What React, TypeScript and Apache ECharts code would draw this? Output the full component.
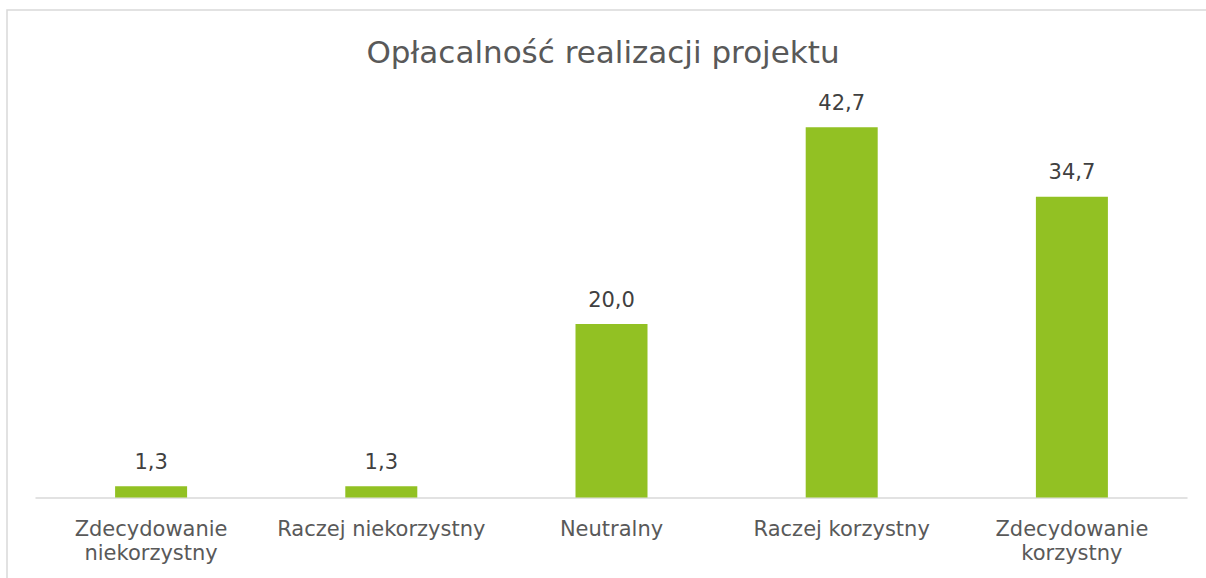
import React, { useEffect, useRef } from "react";
import * as echarts from "echarts";

const titleText = "Opłacalność realizacji projektu";
const categories = [
  "Zdecydowanie\nniekorzystny",
  "Raczej niekorzystny",
  "Neutralny",
  "Raczej korzystny",
  "Zdecydowanie\nkorzystny",
];
const values = [1.3, 1.3, 20.0, 42.7, 34.7];

const FONT = "'DejaVu Sans', sans-serif";

export default function App() {
  const ref = useRef<HTMLDivElement>(null);
  useEffect(() => {
    if (!ref.current) return;
    const chart = echarts.init(ref.current, null, { renderer: "svg" });
    chart.setOption({
      animation: false,
      backgroundColor: "#ffffff",
      title: {
        text: titleText,
        left: "center",
        top: 36,
        padding: 0,
        textStyle: {
          fontFamily: FONT,
          fontSize: 31,
          fontWeight: "normal",
          color: "#595959",
        },
      },
      graphic: [
        {
          type: "rect",
          shape: { x: 7, y: 10, width: 1260, height: 640 },
          style: { fill: "none", stroke: "#d9d9d9", lineWidth: 1.5 },
          silent: true,
        },
      ],
      grid: { left: 36, right: 19, top: 64, bottom: 80.5 },
      xAxis: {
        type: "category",
        data: categories,
        axisLine: { show: true, lineStyle: { color: "#d9d9d9", width: 1.5 } },
        axisTick: { show: false },
        axisLabel: {
          fontFamily: FONT,
          fontSize: 21,
          color: "#595959",
          lineHeight: 24,
          margin: 19,
          interval: 0,
        },
      },
      yAxis: {
        type: "value",
        min: 0,
        max: 50,
        show: false,
        splitLine: { show: false },
      },
      series: [
        {
          type: "bar",
          data: values,
          barWidth: 72,
          itemStyle: { color: "#92c123" },
          label: {
            show: true,
            position: "top",
            distance: 14,
            fontFamily: FONT,
            fontSize: 21,
            color: "#404040",
            formatter: (p: any) => Number(p.value).toFixed(1).replace(".", ","),
          },
        },
      ],
    });
    return () => chart.dispose();
  }, []);
  return (
    <div
      ref={ref}
      style={{ position: "fixed", left: 0, top: 0, width: 1206, height: 578 }}
    />
  );
}
